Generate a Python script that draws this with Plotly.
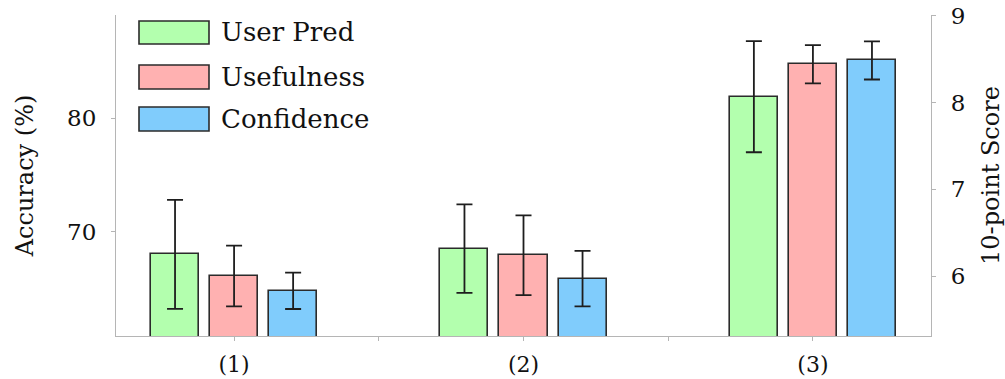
import plotly.graph_objects as go

# ---- data ----
categories = ["(1)", "(2)", "(3)"]
series_names = ["User Pred", "Usefulness", "Confidence"]
user_pred = [68.0, 68.5, 81.9]          # Accuracy (%), left axis
user_pred_err = [4.8, 3.9, 4.9]
usefulness = [6.0, 6.24, 8.44]          # 10-point score, right axis
usefulness_err = [0.35, 0.46, 0.22]
confidence = [5.83, 5.97, 8.485]        # 10-point score, right axis
confidence_err = [0.21, 0.32, 0.22]
left_ticks = [70, 80]
right_ticks = [6, 7, 8, 9]

# ---- styles ----
FONT = "DejaVu Serif"
colors = ["#b3ffae", "#ffb1b1", "#80ccfc"]
outline = "#2b2b2b"
axis_gray = "#b5b5b5"
bar_width = 0.166
offsets = [-0.287, -0.083, 0.121]

x_idx = list(range(len(categories)))

fig = go.Figure()
values = [user_pred, usefulness, confidence]
errors = [user_pred_err, usefulness_err, confidence_err]
yaxes = ["y", "y2", "y2"]
for i in range(3):
    fig.add_trace(go.Bar(
        x=x_idx, y=values[i], name=series_names[i], yaxis=yaxes[i],
        width=bar_width, offset=offsets[i],
        marker=dict(color=colors[i], line=dict(color=outline, width=1.6)),
        error_y=dict(type="data", array=errors[i], visible=True,
                     color="#1e1e1e", thickness=1.8, width=8),
        showlegend=False,
    ))

# ---- manual legend (large swatches as in reference) ----
L, R, T, B = 116, 931, 15, 336
W, H = R - L, B - T
box_rows = [(21, 44), (65, 89), (107, 131)]
for i, (top, bot) in enumerate(box_rows):
    fig.add_shape(type="rect", xref="paper", yref="paper",
                  x0=(139 - L) / W, x1=(209 - L) / W,
                  y0=(B - bot) / H, y1=(B - top) / H,
                  fillcolor=colors[i], line=dict(color=outline, width=1.6))
    fig.add_annotation(xref="paper", yref="paper",
                       x=(219 - L) / W, y=(B - (top + bot) / 2) / H,
                       text=series_names[i], showarrow=False,
                       xanchor="left", yanchor="middle",
                       font=dict(family=FONT, size=26, color="#111"))

tick_labels = []
tick_vals = []
for i, c in enumerate(categories):
    tick_vals.append(i)
    tick_labels.append(c)
    if i < len(categories) - 1:
        tick_vals.append(i + 0.5)
        tick_labels.append("")

fig.update_layout(
    width=1005, height=379,
    margin=dict(l=L, r=1005 - R, t=T, b=379 - B, autoexpand=False),
    plot_bgcolor="white", paper_bgcolor="white",
    font=dict(family=FONT, size=23, color="#111"),
    xaxis=dict(range=[-0.408, 2.408], tickvals=tick_vals, ticktext=tick_labels,
               showline=True, linecolor=axis_gray, linewidth=1.2,
               ticks="outside", ticklen=4, tickcolor=axis_gray,
               tickfont=dict(size=22), automargin=False,
               showgrid=False, zeroline=False, ticklabelstandoff=4),
    yaxis=dict(range=[60.8, 89.1], tickvals=left_ticks,
               title=dict(text="Accuracy (%)", font=dict(size=24), standoff=26),
               showline=True, linecolor=axis_gray, linewidth=1.2,
               ticks="outside", ticklen=4, tickcolor=axis_gray,
               automargin=False,
               showgrid=False, zeroline=False, ticklabelstandoff=10),
    yaxis2=dict(range=[5.309, 9.008], tickvals=right_ticks, overlaying="y",
                side="right",
                title=dict(text="10-point Score", font=dict(size=24), standoff=30),
                showline=True, linecolor=axis_gray, linewidth=1.2,
                ticks="outside", ticklen=4, tickcolor=axis_gray,
                automargin=False,
                showgrid=False, zeroline=False, ticklabelstandoff=10),
    bargap=0,
)

fig.write_html("out.html",
               config={"displayModeBar": False},
               post_script="document.body.style.margin='0';"
                           "document.body.style.overflow='hidden';")
